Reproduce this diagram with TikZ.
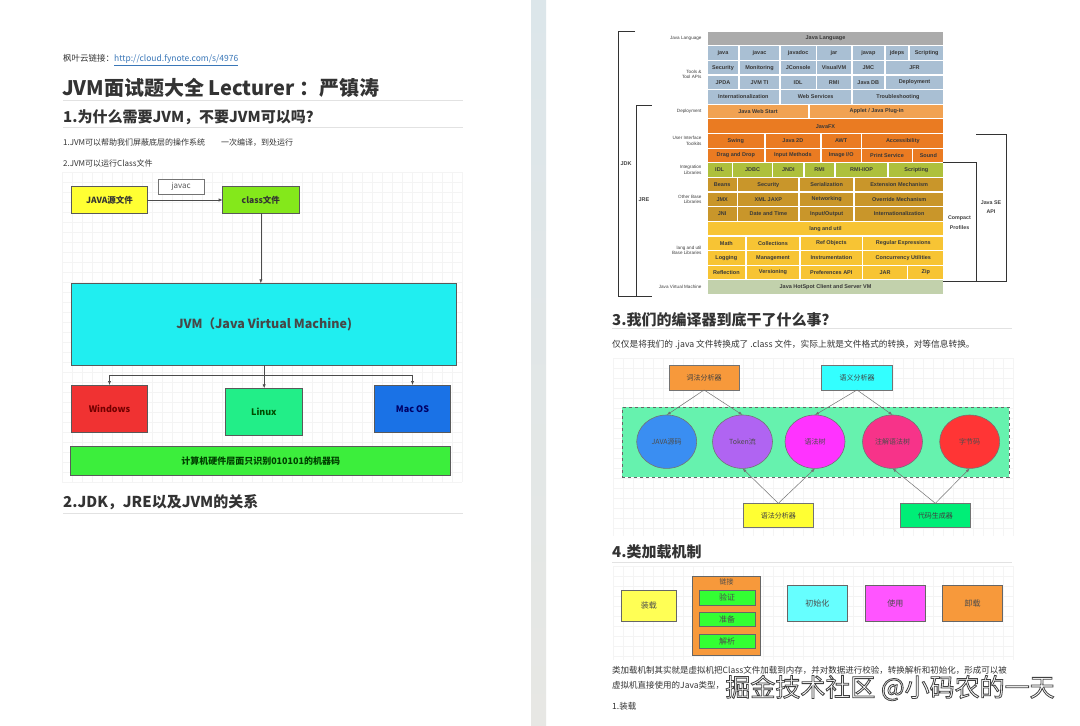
\documentclass[tikz,border=0pt]{standalone}
\usepackage{fontspec}
\setmainfont{Noto Sans CJK SC}
\newfontfamily\arialf{Liberation Sans}
\usetikzlibrary{arrows.meta,shapes.geometric}
\definecolor{bandTop}{HTML}{DCE6EA}
\definecolor{bandBot}{HTML}{E7E7E4}
\definecolor{gridc}{HTML}{F4F4F4}
\definecolor{hlinec}{HTML}{E2E2E2}
\definecolor{linkc}{HTML}{3A77B8}
\definecolor{txtc}{HTML}{333333}
\definecolor{cSrc}{HTML}{FFFF33}
\definecolor{cCls}{HTML}{84E81B}
\definecolor{cJvm}{HTML}{20EEF0}
\definecolor{cWin}{HTML}{F03232}
\definecolor{cLin}{HTML}{22EE88}
\definecolor{cMac}{HTML}{1A72E6}
\definecolor{cHw}{HTML}{3CEE3C}
\definecolor{jGray}{HTML}{ABABAB}
\definecolor{jBlue}{HTML}{A9BFD3}
\definecolor{jOrA}{HTML}{F1A252}
\definecolor{jOrB}{HTML}{EA7B22}
\definecolor{jGreen}{HTML}{AEC03C}
\definecolor{jGold}{HTML}{C9962A}
\definecolor{jYel}{HTML}{F7C434}
\definecolor{jVm}{HTML}{C2D1AC}
\definecolor{cOrange}{HTML}{F7993B}
\definecolor{cCyan}{HTML}{33FFFF}
\definecolor{cStage}{HTML}{66F2AE}
\definecolor{cE1}{HTML}{3A8EF2}
\definecolor{cE2}{HTML}{B064F2}
\definecolor{cE3}{HTML}{FF33FF}
\definecolor{cE4}{HTML}{F73389}
\definecolor{cE5}{HTML}{FF3535}
\definecolor{cYellow}{HTML}{FFFF33}
\definecolor{cSpring}{HTML}{00EE77}
\definecolor{cYel2}{HTML}{FFFF55}
\definecolor{cGreen}{HTML}{33FF33}
\definecolor{cCyan2}{HTML}{66FFFF}
\definecolor{cMag2}{HTML}{FF55FF}
\newcommand\rbox[7]{\node[#6, minimum width={(#4-#2)*1pt}, minimum height={(#5-#3)*1pt}] (#1) at ({(#2+#4)/2},{(#3+#5)/2}) {#7};}
\newcommand\jc[6]{\pgfmathsetmacro\jxa{610+#3/3}\pgfmathsetmacro\jxb{610+#4/3}\pgfmathsetmacro\jyc{38.4+#2*14.63}\node[jcell,fill=#5,minimum width={(\jxb-\jxa)*1pt}] (#1) at ({(\jxa+\jxb)/2},\jyc) {#6};}
\tikzset{
  gridline/.style={draw=gridc, line width=0.4pt},
  hline/.style={draw=hlinec, line width=0.8pt},
  txt/.style={text=txtc, inner sep=0pt, anchor=west},
  fsmall/.style={font=\fontsize{8}{10}\selectfont},
  fhead/.style={font=\bfseries\fontsize{15}{18}\selectfont},
  dbox/.style={draw=black!65, line width=0.8pt, inner sep=0pt, outer sep=0pt, text=txtc},
  larr/.style={draw=black!70, line width=0.6pt, -{Latex[length=4pt,width=3.2pt]}},
  jcell/.style={inner sep=0pt, outer sep=0pt, minimum height=13.4pt, font=\arialf\bfseries\fontsize{5.5}{6.5}\selectfont, text=black!78},
  jlab/.style={inner sep=0pt, anchor=east, align=right, font=\arialf\fontsize{4.6}{5.6}\selectfont, text=black!75},
  brk/.style={draw=black!80, line width=0.9pt},
  cbox/.style={draw=black!55, line width=0.6pt, inner sep=0pt, outer sep=0pt, font=\fontsize{7}{8}\selectfont, text=black!75},
  ell/.style={ellipse, draw=black!55, line width=0.6pt, inner sep=0pt, outer sep=0pt, minimum width=60pt, minimum height=53.4pt, font=\fontsize{7}{8}\selectfont, text=black!70},
  carr/.style={draw=black!55, line width=0.5pt, -{Latex[length=4pt,width=3pt]}},
  lbox/.style={draw=black!60, line width=0.7pt, inner sep=0pt, outer sep=0pt, font=\fontsize{8}{9}\selectfont, text=black!70}
}
\begin{document}
\begin{tikzpicture}[x=1pt,y=-1pt]
\useasboundingbox (0,0) rectangle (1080,726);
\fill[white] (0,0) rectangle (1080,726);
\shade[top color=bandTop,bottom color=bandBot] (531,0) rectangle (546,726);
% background grids
\foreach \x in {62,72,...,462} \draw[gridline] (\x,172) -- (\x,482);
\foreach \y in {172,182,...,482} \draw[gridline] (62,\y) -- (462,\y);
\foreach \x in {613,623,...,1013} \draw[gridline] (\x,358) -- (\x,536);
\foreach \y in {358,368,...,536} \draw[gridline] (613,\y) -- (1013,\y);
\foreach \x in {613,623,...,1013} \draw[gridline] (\x,566) -- (\x,660);
\foreach \y in {566,576,...,656} \draw[gridline] (613,\y) -- (1013,\y);

% ---------- left page text ----------
\node[txt,font=\fontsize{8.5}{10}\selectfont] (lnk) at (63,60) {枫叶云链接：\textcolor{linkc}{\underline{http://cloud.fynote.com/s/4976}}};
\node[txt,font=\bfseries\fontsize{20}{24}\selectfont] (title) at (62,88) {JVM面试题大全 Lecturer ：严镇涛};
\draw[hline] (63,100) -- (463,100);
\node[txt,fhead] (h1) at (63,117) {1.为什么需要JVM，不要JVM可以吗？};
\draw[hline] (63,127.5) -- (463,127.5);
\node[txt,fsmall] (p1) at (63,142.5) {1.JVM可以帮助我们屏蔽底层的操作系统\hspace{16pt}一次编译，到处运行};
\node[txt,fsmall] (p2) at (63,163.5) {2.JVM可以运行Class文件};
\node[txt,fhead] (h2) at (63,502) {2.JDK，JRE以及JVM的关系};
\draw[hline] (63,513) -- (463,513);

% ---------- left diagram ----------
\rbox{src}{71.7}{186.7}{147.3}{213.3}{dbox,fill=cSrc,font=\bfseries\fontsize{8.5}{10}\selectfont}{JAVA源文件}
\rbox{javac}{158.3}{179.3}{204}{194.3}{dbox,draw=black!55,fill=white,font=\fontsize{8}{9}\selectfont,text=black!65}{javac}
\rbox{cls}{222.7}{186.7}{299}{213.3}{dbox,fill=cCls,font=\bfseries\fontsize{8.5}{10}\selectfont}{class文件}
\rbox{jvm}{71.7}{283.3}{456.7}{365}{dbox,fill=cJvm,font=\bfseries\fontsize{12.5}{14}\selectfont,text=black!72}{JVM（Java Virtual Machine)}
\rbox{win}{71.7}{385}{147.3}{432.3}{dbox,fill=cWin,font=\bfseries\fontsize{9}{10}\selectfont,text=red!45!black}{Windows}
\rbox{lin}{225.7}{388.3}{302}{435}{dbox,fill=cLin,font=\bfseries\fontsize{9}{10}\selectfont,text=green!30!black}{Linux}
\rbox{mac}{374.3}{385}{450.7}{432.3}{dbox,fill=cMac,font=\bfseries\fontsize{9}{10}\selectfont,text=blue!40!black}{Mac OS}
\rbox{hw}{70.7}{446.7}{450.7}{475.7}{dbox,fill=cHw,font=\bfseries\fontsize{9}{10}\selectfont,text=green!25!black}{计算机硬件层面只识别010101的机器码}
\draw[larr] (src) -- (cls);
\draw[larr] (cls.south) -- (cls.south |- jvm.north);
\coordinate (br) at (264.2,375.7);
\draw[larr] (jvm.south) -- (jvm.south |- lin.north);
\draw[larr] (br) -| (win.north);
\draw[larr] (br) -| (mac.north);

% ---------- JDK diagram ----------
\jc{jlang}{0}{293}{1000}{jGray}{Java Language}
\jc{ja}{1}{293}{385}{jBlue}{java}
\jc{jb}{1}{390}{507}{jBlue}{javac}
\jc{jcc}{1}{512}{617}{jBlue}{javadoc}
\jc{jd}{1}{622}{722}{jBlue}{jar}
\jc{je}{1}{728}{822}{jBlue}{javap}
\jc{jf}{1}{827}{895}{jBlue}{jdeps}
\jc{jg}{1}{900}{1000}{jBlue}{Scripting}
\jc{ka}{2}{293}{385}{jBlue}{Security}
\jc{kb}{2}{390}{507}{jBlue}{Monitoring}
\jc{kc}{2}{512}{617}{jBlue}{JConsole}
\jc{kd}{2}{622}{722}{jBlue}{VisualVM}
\jc{ke}{2}{728}{822}{jBlue}{JMC}
\jc{kf}{2}{827}{1000}{jBlue}{JFR}
\jc{la}{3}{293}{385}{jBlue}{JPDA}
\jc{lb}{3}{390}{507}{jBlue}{JVM TI}
\jc{lc}{3}{512}{617}{jBlue}{IDL}
\jc{ld}{3}{622}{722}{jBlue}{RMI}
\jc{le}{3}{728}{822}{jBlue}{Java DB}
\jc{lf}{3}{827}{1000}{jBlue}{Deployment}
\jc{ma}{4}{293}{507}{jBlue}{Internationalization}
\jc{mb}{4}{512}{722}{jBlue}{Web Services}
\jc{mc}{4}{728}{1000}{jBlue}{Troubleshooting}
\jc{na}{5}{293}{595}{jOrA}{Java Web Start}
\jc{nb}{5}{600}{1000}{jOrA}{Applet / Java Plug-in}
\jc{oa}{6}{293}{1000}{jOrB}{JavaFX}
\jc{pa}{7}{293}{462}{jOrB}{Swing}
\jc{pb}{7}{467}{630}{jOrB}{Java 2D}
\jc{pc}{7}{635}{752}{jOrB}{AWT}
\jc{pd}{7}{757}{1000}{jOrB}{Accessibility}
\jc{qa}{8}{293}{462}{jOrB}{Drag and Drop}
\jc{qb}{8}{467}{630}{jOrB}{Input Methods}
\jc{qc}{8}{635}{752}{jOrB}{Image I/O}
\jc{qd}{8}{757}{905}{jOrB}{Print Service}
\jc{qe}{8}{910}{1000}{jOrB}{Sound}
\jc{ra}{9}{293}{365}{jGreen}{IDL}
\jc{rb}{9}{370}{485}{jGreen}{JDBC}
\jc{rc}{9}{490}{580}{jGreen}{JNDI}
\jc{rd}{9}{585}{672}{jGreen}{RMI}
\jc{re}{9}{678}{832}{jGreen}{RMI-IIOP}
\jc{rf}{9}{838}{1000}{jGreen}{Scripting}
\jc{sa}{10}{293}{380}{jGold}{Beans}
\jc{sb}{10}{385}{565}{jGold}{Security}
\jc{sc}{10}{570}{730}{jGold}{Serialization}
\jc{sd}{10}{735}{1000}{jGold}{Extension Mechanism}
\jc{ta}{11}{293}{380}{jGold}{JMX}
\jc{tb}{11}{385}{565}{jGold}{XML JAXP}
\jc{tc}{11}{570}{730}{jGold}{Networking}
\jc{td}{11}{735}{1000}{jGold}{Override Mechanism}
\jc{ua}{12}{293}{380}{jGold}{JNI}
\jc{ub}{12}{385}{565}{jGold}{Date and Time}
\jc{uc}{12}{570}{730}{jGold}{Input/Output}
\jc{ud}{12}{735}{1000}{jGold}{Internationalization}
\jc{va}{13}{293}{1000}{jYel}{lang and util}
\jc{wa}{14}{293}{405}{jYel}{Math}
\jc{wb}{14}{410}{568}{jYel}{Collections}
\jc{wc}{14}{573}{755}{jYel}{Ref Objects}
\jc{wd}{14}{760}{1000}{jYel}{Regular Expressions}
\jc{xa}{15}{293}{405}{jYel}{Logging}
\jc{xb}{15}{410}{568}{jYel}{Management}
\jc{xc}{15}{573}{755}{jYel}{Instrumentation}
\jc{xd}{15}{760}{1000}{jYel}{Concurrency Utilities}
\jc{ya}{16}{293}{405}{jYel}{Reflection}
\jc{yb}{16}{410}{568}{jYel}{Versioning}
\jc{yc}{16}{573}{755}{jYel}{Preferences API}
\jc{yd}{16}{760}{890}{jYel}{JAR}
\jc{ye}{16}{895}{1000}{jYel}{Zip}
\jc{za}{17}{293}{1000}{jVm}{Java HotSpot Client and Server VM}
% left labels
\node[jlab] (l0) at (701.7,38.4) {Java Language};
\node[jlab] (l1) at (701.7,74.5) {Tools \&\\Tool APIs};
\node[jlab] (l2) at (701.7,111.6) {Deployment};
\node[jlab] (l3) at (701.7,140.8) {User Interface\\Toolkits};
\node[jlab] (l4) at (701.7,170.1) {Integration\\Libraries};
\node[jlab] (l5) at (701.7,199.3) {Other Base\\Libraries};
\node[jlab] (l6) at (701.7,250.5) {lang and util\\Base Libraries};
\node[jlab] (l7) at (701.7,287.1) {Java Virtual Machine};
% brackets
\draw[brk] (635,31) -- (618.3,31) -- (618.3,296.7) -- (651.7,296.7);
\draw[brk] (651.7,105) -- (636,105) -- (636,296.7);
\node[jlab,anchor=center,font=\arialf\bfseries\fontsize{5.5}{6.5}\selectfont] (jdk) at (626,163.5) {JDK};
\node[jlab,anchor=center,font=\arialf\bfseries\fontsize{5.5}{6.5}\selectfont] (jre) at (644,200) {JRE};
\draw[brk] (976,134) -- (1006,134) -- (1006,281.7) -- (943.3,281.7);
\draw[brk] (943.3,162.7) -- (976,162.7) -- (976,281.7);
\node[jlab,anchor=center,align=center,font=\arialf\bfseries\fontsize{5.3}{9}\selectfont] (jse) at (991,207.5) {Java SE\\API};
\node[jlab,anchor=center,align=center,font=\arialf\bfseries\fontsize{5.3}{9.5}\selectfont] (cp) at (959.5,222.5) {Compact\\Profiles};

% ---------- section 3 ----------
\node[txt,fhead] (h3) at (612,320) {3.我们的编译器到底干了什么事？};
\draw[hline] (612,328.5) -- (1012,328.5);
\node[txt,font=\fontsize{8.7}{10}\selectfont] (p3) at (612,344.5) {仅仅是将我们的 .java 文件转换成了 .class 文件，实际上就是文件格式的转换，对等信息转换。};
\rbox{lex}{669}{365}{739.3}{390}{cbox,fill=cOrange}{词法分析器}
\rbox{sem}{821.7}{365}{892.3}{390}{cbox,fill=cCyan}{语义分析器}
\rbox{stage}{622.3}{407.3}{1009}{477.3}{draw=black!60,dashed,line width=0.5pt,fill=cStage,inner sep=0pt,outer sep=0pt}{}
\node[ell,fill=cE1] (e1) at (666.7,441.7) {JAVA源码};
\node[ell,fill=cE2] (e2) at (742.5,441.7) {Token流};
\node[ell,fill=cE3] (e3) at (815,441.7) {语法树};
\node[ell,fill=cE4] (e4) at (892.5,441.7) {注解语法树};
\node[ell,fill=cE5] (e5) at (969.7,441.7) {字节码};
\rbox{syn}{743.3}{503.3}{813.3}{527.7}{cbox,fill=cYellow}{语法分析器}
\rbox{gen}{900}{503.3}{970.7}{527.7}{cbox,fill=cSpring}{代码生成器}
\draw[carr] (lex.south) -- (e1.north);
\draw[carr] (lex.south) -- (e2.north);
\draw[carr] (sem.south) -- (e3.north);
\draw[carr] (sem.south) -- (e4.north);
\draw[carr] (syn.north) -- (e2.south);
\draw[carr] (syn.north) -- (e3.south);
\draw[carr] (gen.north) -- (e4.south);
\draw[carr] (gen.north) -- (e5.south);

% ---------- section 4 ----------
\node[txt,fhead] (h4) at (612,552) {4.类加载机制};
\draw[hline] (612,562) -- (1012,562);
\rbox{load}{621.7}{590}{676}{621.7}{lbox,fill=cYel2}{装载}
\rbox{link}{692.3}{576}{760.7}{655.7}{lbox,fill=cOrange}{}
\node[inner sep=0pt,font=\fontsize{7}{8}\selectfont,text=black!70] (linklbl) at (726.5,581.5) {链接};
\rbox{ver}{699.3}{590.7}{755}{605}{lbox,fill=cGreen}{验证}
\rbox{prep}{699.3}{612.3}{755}{626.7}{lbox,fill=cGreen}{准备}
\rbox{res}{699.3}{634.3}{755}{648.3}{lbox,fill=cGreen}{解析}
\rbox{init}{787.3}{585.7}{847.3}{621.7}{lbox,fill=cCyan2}{初始化}
\rbox{use}{865}{585.7}{925.7}{621.7}{lbox,fill=cMag2}{使用}
\rbox{unl}{942.7}{585.7}{1002.7}{621.7}{lbox,fill=cOrange}{卸载}
\node[txt,font=\fontsize{8.5}{10}\selectfont] (p4) at (612,670) {类加载机制其实就是虚拟机把Class文件加载到内存，并对数据进行校验，转换解析和初始化，形成可以被};
\node[txt,font=\fontsize{8.5}{10}\selectfont] (p5) at (612,685.5) {虚拟机直接使用的Java类型，};
\node[txt,font=\fontsize{8.5}{10}\selectfont] (p6) at (612,706) {1.装载};
% watermark
\node[inner sep=0pt,text=white,font=\fontsize{25}{28}\selectfont] (wm) at (890,688) {\special{pdf:literal direct 2 Tr 0.8 w 0.25 0.25 0.25 RG}掘金技术社区 @小码农的一天\special{pdf:literal direct 0 Tr}};
\end{tikzpicture}
\end{document}
